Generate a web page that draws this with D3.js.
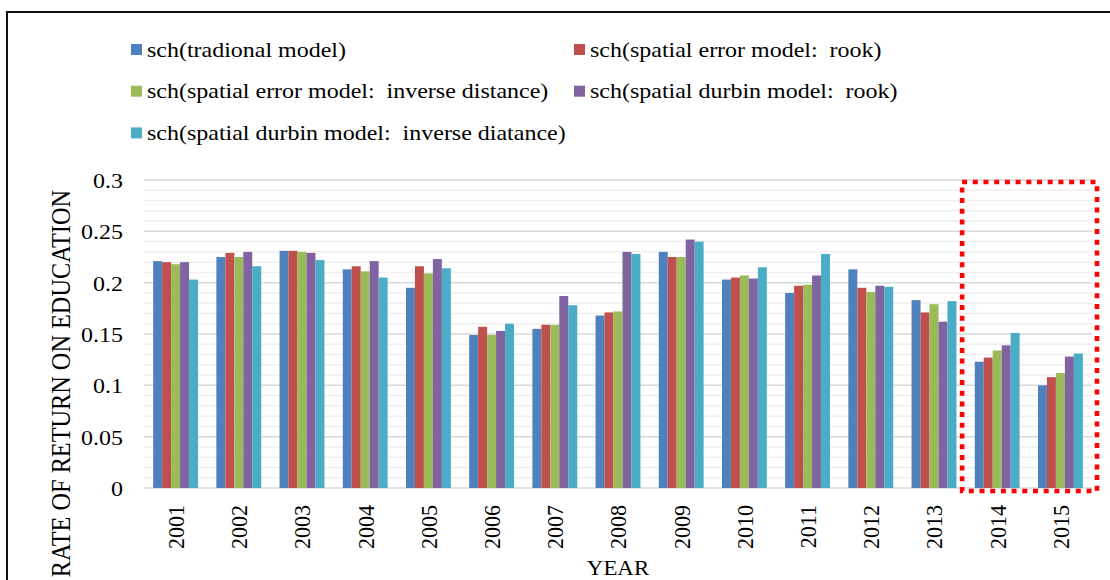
<!DOCTYPE html>
<html>
<head>
<meta charset="utf-8">
<script src="https://cdn.jsdelivr.net/npm/d3@7/dist/d3.min.js"></script>
<style>
  html, body { margin: 0; padding: 0; background: #fff; }
  svg text { font-family: "Liberation Serif", "Times New Roman", serif; fill: #000; white-space: pre; }
</style>
</head>
<body>
<svg id="chart" width="1110" height="580"></svg>
<script>
// Estimated rate of return on education (schooling coefficient) by model
const years = ["2001","2002","2003","2004","2005","2006","2007","2008","2009","2010","2011","2012","2013","2014","2015"];
const seriesNames = [
  "sch(tradional model)",
  "sch(spatial error model:  rook)",
  "sch(spatial error model:  inverse distance)",
  "sch(spatial durbin model:  rook)",
  "sch(spatial durbin model:  inverse diatance)"
];
const traditional = [0.221, 0.225, 0.231, 0.213, 0.195, 0.149, 0.155, 0.168, 0.230, 0.203, 0.190, 0.213, 0.183, 0.123, 0.100];
const semRook     = [0.220, 0.229, 0.231, 0.216, 0.216, 0.157, 0.159, 0.171, 0.225, 0.205, 0.197, 0.195, 0.171, 0.127, 0.108];
const semInverse  = [0.218, 0.225, 0.230, 0.211, 0.209, 0.149, 0.159, 0.172, 0.225, 0.207, 0.198, 0.191, 0.179, 0.134, 0.112];
const sdmRook     = [0.220, 0.230, 0.229, 0.221, 0.223, 0.153, 0.187, 0.230, 0.242, 0.204, 0.207, 0.197, 0.162, 0.139, 0.128];
const sdmInverse  = [0.203, 0.216, 0.222, 0.205, 0.214, 0.160, 0.178, 0.228, 0.240, 0.215, 0.228, 0.196, 0.182, 0.151, 0.131];
const yTicks = [0, 0.05, 0.1, 0.15, 0.2, 0.25, 0.3];
const highlightYears = ["2014", "2015"];

const seriesValues = [traditional, semRook, semInverse, sdmRook, sdmInverse];
const colors = ["#4F81BD", "#C0504D", "#9BBB59", "#8064A2", "#4BACC6"];

const svg = d3.select("#chart");
const SX = 1.09; // horizontal text stretch
const FONT = "Liberation Serif";

// outer frame (left and top edges)
svg.append("path")
  .attr("d", "M7,580 V12 H1110")
  .attr("fill", "none").attr("stroke", "#111").attr("stroke-width", 2);

const plot = { left: 144, right: 1092, top: 180, bottom: 488 };

const x = d3.scaleBand().domain(years).range([plot.left, plot.right])
  .paddingInner(0.29).paddingOuter(0.145);
const xs = d3.scaleBand().domain(d3.range(seriesValues.length)).range([0, x.bandwidth()]);
const y = d3.scaleLinear().domain([0, 0.3]).range([plot.bottom, plot.top]);

// minor gridlines every 0.01
const minor = d3.range(1, 30).map(i => i / 100).filter(v => Math.abs(v * 20 - Math.round(v * 20)) > 1e-6);
svg.append("g").selectAll("line").data(minor).join("line")
  .attr("x1", plot.left).attr("x2", plot.right)
  .attr("y1", d => y(d)).attr("y2", d => y(d))
  .attr("stroke", "#efefef").attr("stroke-width", 1.5);

// major gridlines
svg.append("g").selectAll("line").data(yTicks).join("line")
  .attr("x1", plot.left).attr("x2", plot.right)
  .attr("y1", d => y(d)).attr("y2", d => y(d))
  .attr("stroke", "#d9d9d9").attr("stroke-width", 1.5);

// y tick labels
svg.append("g").selectAll("text").data(yTicks).join("text")
  .attr("transform", d => `translate(123,${y(d)}) scale(${SX},1)`)
  .attr("dy", "0.36em")
  .attr("text-anchor", "end")
  .attr("font-family", FONT)
  .attr("font-size", 22)
  .text(d => d3.format("~g")(d));

// bars
const groups = svg.append("g").selectAll("g").data(years).join("g")
  .attr("transform", d => `translate(${x(d)},0)`);
groups.selectAll("rect")
  .data((yr, i) => seriesValues.map((vals, s) => ({ s, v: vals[i] })))
  .join("rect")
  .attr("x", d => xs(d.s))
  .attr("width", xs.bandwidth())
  .attr("y", d => y(d.v))
  .attr("height", d => y(0) - y(d.v))
  .attr("fill", d => colors[d.s]);

// x tick labels (rotated)
svg.append("g").selectAll("text").data(years).join("text")
  .attr("transform", d => `translate(${x(d) + x.bandwidth() / 2},505) scale(${SX},1) rotate(-90)`)
  .attr("dy", "0.35em")
  .attr("text-anchor", "end")
  .attr("font-family", FONT)
  .attr("font-size", 22)
  .text(d => d);

// axis titles
svg.append("text")
  .attr("transform", `translate(${(plot.left + plot.right) / 2},575) scale(${SX},1)`)
  .attr("text-anchor", "middle")
  .attr("font-family", FONT)
  .attr("font-size", 21)
  .text("YEAR");
svg.append("text")
  .attr("transform", `translate(70,190) scale(${SX},1) rotate(-90)`)
  .attr("text-anchor", "end")
  .attr("font-family", FONT)
  .attr("font-size", 24.3)
  .text("RATE OF RETURN ON EDUCATION");

// legend
const legendPos = [[131, 49.5], [574, 49.5], [131, 91.2], [574, 91.2], [131, 132.9]];
const legend = svg.append("g").selectAll("g").data(seriesNames).join("g")
  .attr("transform", (d, i) => `translate(${legendPos[i][0]},${legendPos[i][1]})`);
legend.append("rect")
  .attr("x", 0).attr("y", -5.5).attr("width", 11).attr("height", 11)
  .attr("fill", (d, i) => colors[i]);
legend.append("text")
  .attr("transform", `translate(16,7) scale(${SX},1)`)
  .attr("font-family", FONT)
  .attr("font-size", 22)
  .text(d => d);

// dotted highlight around the last two years
const hx0 = x(highlightYears[0]) - x.step() * x.paddingOuter() - 3.5;
const hx1 = plot.right + 5;
svg.append("rect")
  .attr("x", hx0).attr("y", y(0.3) + 2)
  .attr("width", hx1 - hx0).attr("height", y(0) + 3 - (y(0.3) + 2))
  .attr("fill", "none")
  .attr("stroke", "#ff0000").attr("stroke-width", 4.6)
  .attr("stroke-dasharray", "5,5.7");
</script>
</body>
</html>
